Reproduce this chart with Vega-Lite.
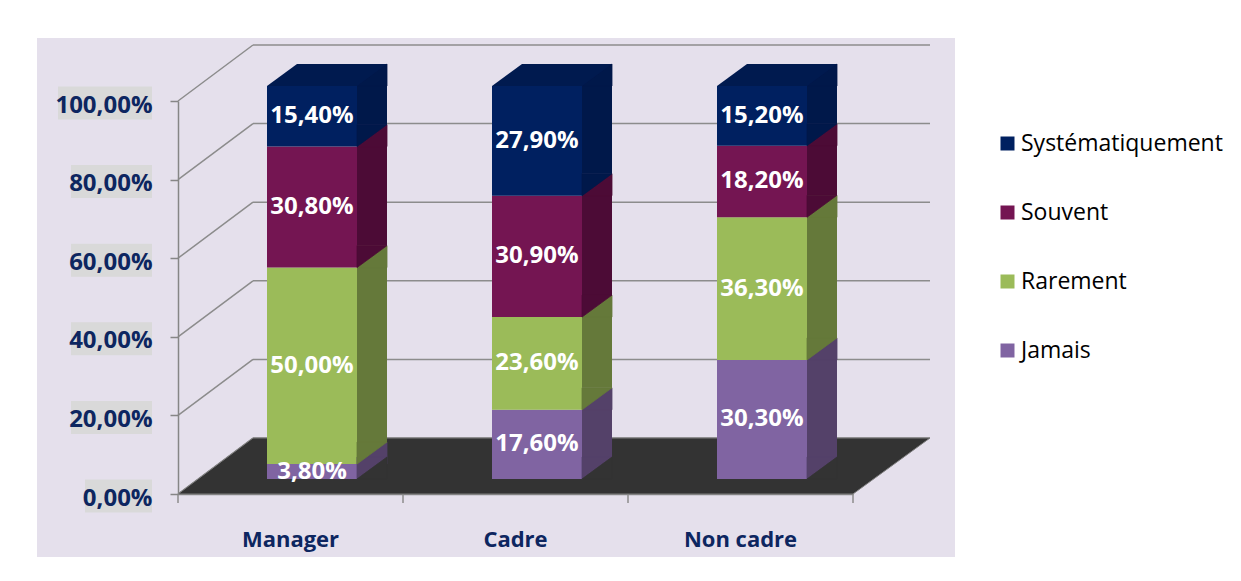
{
  "$schema": "https://vega.github.io/schema/vega-lite/v6.json",
  "width": 918,
  "height": 519,
  "autosize": {"type": "none"},
  "padding": {"left": 37, "top": 38, "right": 286, "bottom": 24},
  "background": "white",
  "config": {
    "view": {"fill": "#E5E0EC", "stroke": null},
    "font": "Open Sans",
    "locale": {"number": {"decimal": ",", "thousands": " ", "grouping": [3], "currency": ["", " €"]}}
  },
  "datasets": {
    "survey": [
      {"cat": "Manager", "level": "Jamais", "value": 0.038},
      {"cat": "Manager", "level": "Rarement", "value": 0.5},
      {"cat": "Manager", "level": "Souvent", "value": 0.308},
      {"cat": "Manager", "level": "Systématiquement", "value": 0.154},
      {"cat": "Cadre", "level": "Jamais", "value": 0.176},
      {"cat": "Cadre", "level": "Rarement", "value": 0.236},
      {"cat": "Cadre", "level": "Souvent", "value": 0.309},
      {"cat": "Cadre", "level": "Systématiquement", "value": 0.279},
      {"cat": "Non cadre", "level": "Jamais", "value": 0.303},
      {"cat": "Non cadre", "level": "Rarement", "value": 0.363},
      {"cat": "Non cadre", "level": "Souvent", "value": 0.182},
      {"cat": "Non cadre", "level": "Systématiquement", "value": 0.152}
    ],
    "ticks": [{"v": 0}, {"v": 0.2}, {"v": 0.4}, {"v": 0.6}, {"v": 0.8}, {"v": 1}],
    "floor": [{"part": "floor"}]
  },
  "layer": [
    {
      "data": {"name": "ticks"},
      "mark": {"type": "rule", "color": "#8C8C8C", "strokeWidth": 1.5, "xOffset": -37.5, "x2Offset": 189.5, "yOffset": -56},
      "encoding": {
        "x": {"datum": "Manager", "bandPosition": 0.5, "type": "nominal", "scale": {"type": "band", "domain": ["Manager", "Cadre", "Non cadre"], "range": [141, 816], "paddingInner": 0.6, "paddingOuter": 0.3}},
        "x2": {"datum": "Non cadre", "bandPosition": 0.5},
        "y": {"field": "v", "type": "quantitative", "title": null, "scale": {"domain": [0, 1], "range": [456, 63], "nice": false, "zero": true}}
      }
    },
    {
      "data": {"name": "ticks"},
      "mark": {"type": "rule", "color": "#8C8C8C", "strokeWidth": 1.5, "xOffset": -112.5, "x2Offset": -37.5, "y2Offset": -56},
      "encoding": {
        "x": {"datum": "Manager", "bandPosition": 0.5, "type": "nominal"},
        "x2": {"datum": "Manager", "bandPosition": 0.5},
        "y": {"field": "v", "type": "quantitative", "title": null},
        "y2": {"field": "v"}
      }
    },
    {
      "data": {"name": "ticks"},
      "mark": {"type": "point", "filled": true, "fill": "#D9D9D9", "opacity": 1, "strokeWidth": 0, "size": 1089, "xOffset": -138.5, "yOffset": 2},
      "encoding": {
        "x": {"datum": "Manager", "bandPosition": 0.5, "type": "nominal"},
        "y": {"field": "v", "type": "quantitative", "title": null},
        "shape": {"field": "v", "type": "nominal", "legend": null, "scale": {"domain": [0, 0.2, 0.4, 0.6, 0.8, 1], "range": ["M-4.0606,-1L0,-1L0,1L-4.0606,1Z", "M-4.9091,-1L0,-1L0,1L-4.9091,1Z", "M-4.9091,-1L0,-1L0,1L-4.9091,1Z", "M-4.9091,-1L0,-1L0,1L-4.9091,1Z", "M-4.9091,-1L0,-1L0,1L-4.9091,1Z", "M-5.697,-1L0,-1L0,1L-5.697,1Z"]}}
      }
    },
    {
      "data": {"name": "survey"},
      "transform": [{"filter": "datum.level === 'Jamais'"}],
      "mark": {"type": "rule", "color": "#8C8C8C", "strokeWidth": 1.5, "xOffset": 112.5, "y2Offset": 9},
      "encoding": {
        "x": {"field": "cat", "type": "nominal", "bandPosition": 0.5, "title": null},
        "y": {"datum": 0, "type": "quantitative"},
        "y2": {"datum": 0}
      }
    },
    {
      "data": {"name": "floor"},
      "mark": {"type": "rule", "color": "#8C8C8C", "strokeWidth": 1.5, "xOffset": -112.5, "y2Offset": 9},
      "encoding": {
        "x": {"datum": "Manager", "bandPosition": 0.5, "type": "nominal"},
        "y": {"datum": 0, "type": "quantitative"},
        "y2": {"datum": 0}
      }
    },
    {
      "data": {"name": "floor"},
      "mark": {"type": "point", "filled": true, "fill": "#333333", "stroke": "#7F7F7F", "strokeWidth": 1, "opacity": 1, "size": 565504, "shape": "M-1,0.07447L0.7952,0.07447L1,-0.07447L-0.8005,-0.07447Z", "xOffset": 38.5, "yOffset": -28},
      "encoding": {
        "x": {"datum": "Cadre", "bandPosition": 0.5, "type": "nominal"},
        "y": {"datum": 0, "type": "quantitative"}
      }
    },
    {
      "data": {"name": "survey"},
      "mark": {"type": "bar", "width": 90, "xOffset": 21.5, "yOffset": -15, "y2Offset": -15},
      "encoding": {
        "x": {"field": "cat", "type": "nominal", "sort": null, "title": null,
          "axis": {"orient": "bottom", "offset": -63, "labelAngle": 0, "labelAlign": "center", "ticks": false, "domainColor": "#868686", "domainWidth": 1.5, "labelFont": "Open Sans", "labelFontSize": 22, "labelFontWeight": "bold", "labelColor": "#0D2660", "labelPadding": 52, "labelBaseline": "alphabetic"}},
        "y": {"field": "value", "type": "quantitative", "stack": "zero", "title": null,
          "axis": {"offset": -141, "zindex": 1, "values": [0, 0.2, 0.4, 0.6, 0.8, 1], "format": ".2%", "grid": false, "labelFont": "Open Sans", "labelFontSize": 24, "labelFontWeight": "bold", "labelColor": "#0D2660", "domainColor": "#868686", "domainWidth": 1.5, "tickColor": "#868686", "tickWidth": 1.5, "tickSize": 8, "labelPadding": 18, "labelBaseline": "middle", "labelOffset": 4}},
        "color": {"field": "level", "type": "nominal",
          "scale": {"domain": ["Systématiquement", "Souvent", "Rarement", "Jamais"], "range": ["#002060", "#741552", "#9BBB59", "#8064A2"]},
          "legend": {"orient": "none", "legendX": 959, "legendY": 94, "title": null, "symbolType": "square", "symbolSize": 196, "symbolStrokeWidth": 0, "symbolOpacity": 1, "labelFont": "Open Sans", "labelFontSize": 23, "labelColor": "#000000", "labelLimit": 400, "rowPadding": 45, "labelOffset": 2, "padding": 0}},
        "order": {"field": "level", "sort": "ascending"}
      }
    },
    {
      "data": {"name": "survey"},
      "mark": {"type": "bar", "width": 30, "xOffset": 81.5, "yOffset": -37, "y2Offset": -15},
      "encoding": {
        "x": {"field": "cat", "type": "nominal", "title": null},
        "y": {"field": "value", "type": "quantitative", "stack": "zero", "title": null},
        "fill": {"field": "level", "type": "nominal", "legend": null,
          "scale": {"domain": ["Systématiquement", "Souvent", "Rarement", "Jamais"], "range": ["#00184A", "#4C0B36", "#65793A", "#544169"]}},
        "detail": {"field": "level"},
        "order": {"field": "level", "sort": "ascending"}
      }
    },
    {
      "data": {"name": "survey"},
      "mark": {"type": "point", "filled": true, "opacity": 1, "strokeWidth": 0.8, "size": 900, "shape": "M-1,0.7333L1,0.7333L1,-0.7333Z", "xOffset": 81.5, "yOffset": -26},
      "encoding": {
        "x": {"field": "cat", "type": "nominal", "title": null},
        "y": {"field": "value", "type": "quantitative", "stack": "zero", "title": null},
        "fill": {"field": "level", "type": "nominal", "legend": null},
        "stroke": {"field": "level", "type": "nominal", "legend": null,
          "scale": {"domain": ["Systématiquement", "Souvent", "Rarement", "Jamais"], "range": ["#00184A", "#4C0B36", "#65793A", "#544169"]}},
        "detail": {"field": "level"},
        "order": {"field": "level", "sort": "ascending"}
      }
    },
    {
      "data": {"name": "survey"},
      "mark": {"type": "point", "filled": true, "opacity": 1, "strokeWidth": 0.8, "size": 900, "shape": "M-1,-0.7333L-1,0.7333L1,-0.7333Z", "xOffset": 81.5, "yOffset": -26},
      "encoding": {
        "x": {"field": "cat", "type": "nominal", "title": null},
        "y": {"field": "value", "type": "quantitative", "stack": "zero", "bandPosition": 0.0001, "title": null},
        "fill": {"field": "level", "type": "nominal", "legend": null},
        "stroke": {"field": "level", "type": "nominal", "legend": null},
        "detail": {"field": "level"},
        "order": {"field": "level", "sort": "ascending"}
      }
    },
    {
      "data": {"name": "survey"},
      "transform": [{"filter": "datum.level === 'Jamais'"}],
      "mark": {"type": "point", "filled": true, "fill": "#333333", "stroke": "#333333", "opacity": 1, "strokeWidth": 0.8, "size": 900, "shape": "M-1,0.7333L1,0.7333L1,-0.7333Z", "xOffset": 81.5, "yOffset": -26},
      "encoding": {
        "x": {"field": "cat", "type": "nominal", "title": null},
        "y": {"datum": 0, "type": "quantitative"}
      }
    },
    {
      "data": {"name": "survey"},
      "transform": [{"filter": "datum.level === 'Systématiquement'"}],
      "mark": {"type": "point", "filled": true, "fill": "#001A4F", "opacity": 1, "strokeWidth": 0, "size": 14400, "shape": "M-1,0.18333L0.5,0.18333L1,-0.18333L-0.5,-0.18333Z", "xOffset": 36.5, "yOffset": -26},
      "encoding": {
        "x": {"field": "cat", "type": "nominal", "title": null},
        "y": {"datum": 1, "type": "quantitative"}
      }
    },
    {
      "data": {"name": "survey"},
      "mark": {"type": "text", "font": "Open Sans", "fontSize": 24, "fontWeight": "bold", "color": "#FFFFFF", "align": "center", "baseline": "middle", "xOffset": 21.5, "yOffset": -15},
      "encoding": {
        "x": {"field": "cat", "type": "nominal", "title": null},
        "y": {"field": "value", "type": "quantitative", "stack": "zero", "bandPosition": 0.5, "title": null},
        "text": {"field": "value", "type": "quantitative", "format": ".2%"},
        "detail": {"field": "level"},
        "order": {"field": "level", "sort": "ascending"}
      }
    }
  ]
}
